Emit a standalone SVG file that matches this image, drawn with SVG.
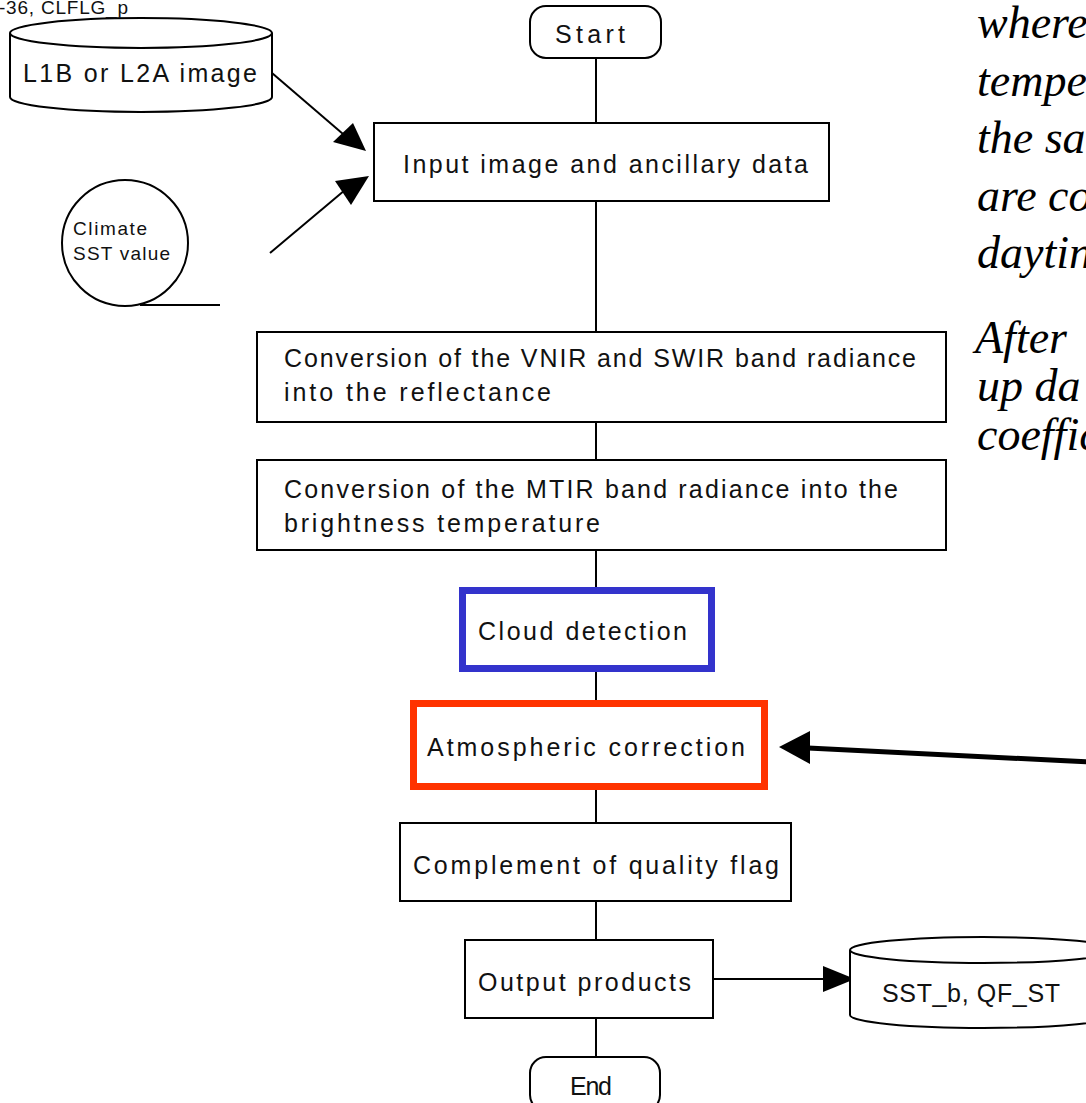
<svg xmlns="http://www.w3.org/2000/svg" width="1086" height="1103" viewBox="0 0 1086 1103">
<style>
.box{fill:#fff;stroke:#000;stroke-width:2}
.t{font-family:"Liberation Sans","DejaVu Sans",sans-serif;font-size:25px;fill:#111}
.s{font-family:"Liberation Sans","DejaVu Sans",sans-serif;font-size:19px;fill:#111}
.it{font-family:"Liberation Serif","DejaVu Serif",serif;font-style:italic;font-size:46px;fill:#000}
.ln{stroke:#000;stroke-width:2;fill:none}
.ah{fill:#000}
</style>
<rect width="1086" height="1103" fill="#fff"/>
<g id="connectors">
<path class="ln" d="M596,58V123M596,201V332M596,422V460M596,550V587M596,672V700M596,790V823M596,901V940M596,1018V1057"/>
<path class="ln" d="M272,73L343,134"/>
<polygon class="ah" points="333,142 353,123 366,151"/>
<path class="ln" d="M270,253L345,190"/>
<polygon class="ah" points="335,181 369,176 351,205"/>
<path class="ln" d="M140,305H220"/>
<path class="ln" d="M713,979H826"/>
<polygon class="ah" points="823,966 855,979 823,992"/>
<path d="M808,748L1090,762" stroke="#000" stroke-width="5" fill="none"/>
<polygon class="ah" points="779,747 810,731 810,764"/>
</g>
<g id="start"><rect class="box" x="530" y="6" width="131" height="52" rx="16"/><text class="t" x="555" y="43" textLength="70">Start</text></g>
<g id="l1b">
<path class="box" d="M10,33A131,15 0 0 1 272,33V97A131,15 0 0 1 10,97Z"/>
<path class="ln" d="M10,33A131,15 0 0 0 272,33"/>
<text class="t" x="23" y="82" textLength="234">L1B or L2A image</text>
</g>
<g id="clflg"><text class="s" x="-1" y="14" textLength="129">-36, CLFLG_p</text></g>
<g id="climate">
<circle class="box" cx="125" cy="243" r="63"/>
<text class="s" x="73" y="235" textLength="74">Climate</text>
<text class="s" x="73" y="260" textLength="97">SST value</text>
</g>
<g id="input"><rect class="box" x="374" y="123" width="455" height="78"/><text class="t" x="403" y="173" textLength="405">Input image and ancillary data</text></g>
<g id="vnir"><rect class="box" x="257" y="332" width="689" height="90"/>
<text class="t" x="284" y="367" textLength="632">Conversion of the VNIR and SWIR band radiance</text>
<text class="t" x="284" y="401" textLength="267">into the reflectance</text></g>
<g id="mtir"><rect class="box" x="257" y="460" width="689" height="90"/>
<text class="t" x="284" y="498" textLength="614">Conversion of the MTIR band radiance into the</text>
<text class="t" x="284" y="532" textLength="316">brightness temperature</text></g>
<g id="cloud"><rect x="462.5" y="590.5" width="249" height="78" fill="#fff" stroke="#3333CC" stroke-width="7"/>
<text class="t" x="478" y="640" textLength="209">Cloud detection</text></g>
<g id="atmos"><rect x="413.5" y="703.5" width="351" height="83" fill="#fff" stroke="#FF3300" stroke-width="7"/>
<text class="t" x="427" y="756" textLength="318">Atmospheric correction</text></g>
<g id="complement"><rect class="box" x="400" y="823" width="391" height="78"/>
<text class="t" x="413" y="874" textLength="366">Complement of quality flag</text></g>
<g id="output"><rect class="box" x="465" y="940" width="248" height="78"/>
<text class="t" x="478" y="991" textLength="213">Output products</text></g>
<g id="end"><rect class="box" x="530" y="1057" width="130" height="54" rx="16"/><text class="t" x="570" y="1095" textLength="42">End</text></g>
<g id="sst">
<path class="box" d="M850,950A133,13 0 0 1 1116,950V1015A133,13 0 0 1 850,1015Z"/>
<path class="ln" d="M850,950A133,13 0 0 0 1116,950"/>
<text class="t" x="882" y="1002" textLength="178">SST_b, QF_ST</text>
</g>
<g id="prose">
<text class="it" x="977" y="38">where</text>
<text class="it" x="977" y="96">tempe</text>
<text class="it" x="977" y="153">the sa</text>
<text class="it" x="977" y="211">are co</text>
<text class="it" x="977" y="268">daytin</text>
<text class="it" x="975" y="353">After</text>
<text class="it" x="977" y="401">up da</text>
<text class="it" x="977" y="450">coeffic</text>
</g>
</svg>
